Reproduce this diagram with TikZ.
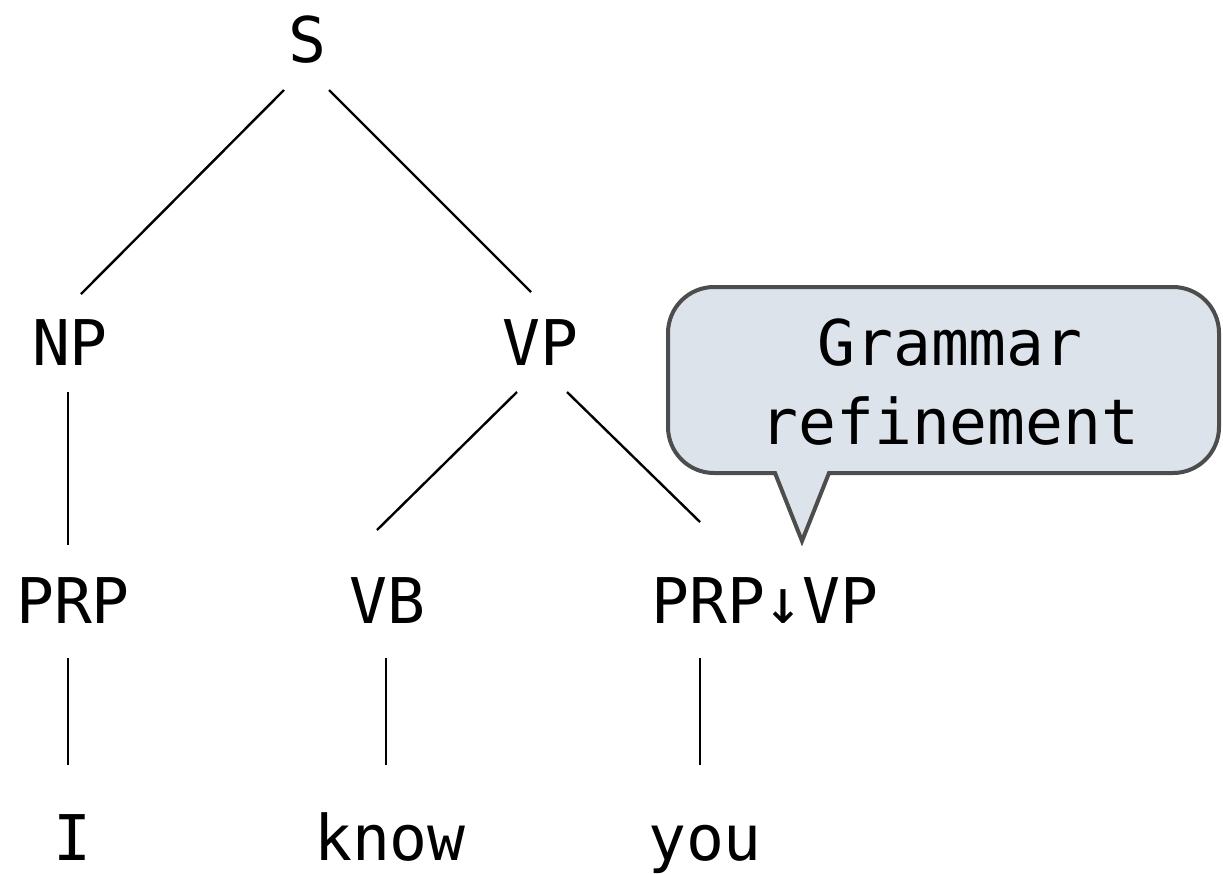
\documentclass[tikz,border=0pt]{standalone}
\usepackage{fontspec}
\setmonofont{DejaVu Sans Mono}
\definecolor{balloon}{HTML}{DCE3EB}
\definecolor{balloonline}{HTML}{4D4D4D}
\tikzset{
 lbl/.style={anchor=base,inner sep=0pt,font=\ttfamily\fontsize{63}{79}\selectfont},
 edge/.style={line width=2.4pt,black},
 callout/.style={line width=4pt,draw=balloonline,fill=balloon,line join=miter}
}
\begin{document}
\begin{tikzpicture}[x=1pt,y=-1pt]
 \useasboundingbox (0,0) rectangle (1223,873);
 \node[lbl] (S) at (307,62) {S};
 \node[lbl] (NP) at (70,365) {NP};
 \node[lbl] (VP) at (540,365) {VP};
 \node[lbl] (PRPa) at (73,623) {PRP};
 \node[lbl] (VB) at (387,623) {VB};
 \node[lbl] (PRPb) at (765,623) {PRP↓VP};
 \node[lbl] (I) at (72,860) {I};
 \node[lbl] (know) at (390,860) {know};
 \node[lbl] (you) at (705,860) {you};
 \draw[edge] ([shift={(-23,28)}]S.base) -- ([shift={(11,-71)}]NP.base);
 \draw[edge] ([shift={(22,28)}]S.base) -- ([shift={(-9,-73)}]VP.base);
 \draw[edge] ([shift={(-2,27)}]NP.base) -- ([shift={(-5,-78)}]PRPa.base);
 \draw[edge] ([shift={(-23,27)}]VP.base) -- ([shift={(-10,-93)}]VB.base);
 \draw[edge] ([shift={(27,27)}]VP.base) -- ([shift={(-65,-101)}]PRPb.base);
 \draw[edge] ([shift={(-5,35)}]PRPa.base) -- ([shift={(-4,-95)}]I.base);
 \draw[edge] ([shift={(-1,35)}]VB.base) -- ([shift={(-4,-95)}]know.base);
 \draw[edge] ([shift={(-65,35)}]PRPb.base) -- ([shift={(-5,-95)}]you.base);
 \coordinate (tip) at (802,541);
 \draw[callout] (tip) -- (829,473) [rounded corners=46] -- (1219,473) -- (1219,287) -- (668,287) -- (668,473) [sharp corners] -- (775,473) -- cycle;
 \node[lbl,align=center] (note) at (950,444) {Grammar\\refinement};
\end{tikzpicture}
\end{document}
